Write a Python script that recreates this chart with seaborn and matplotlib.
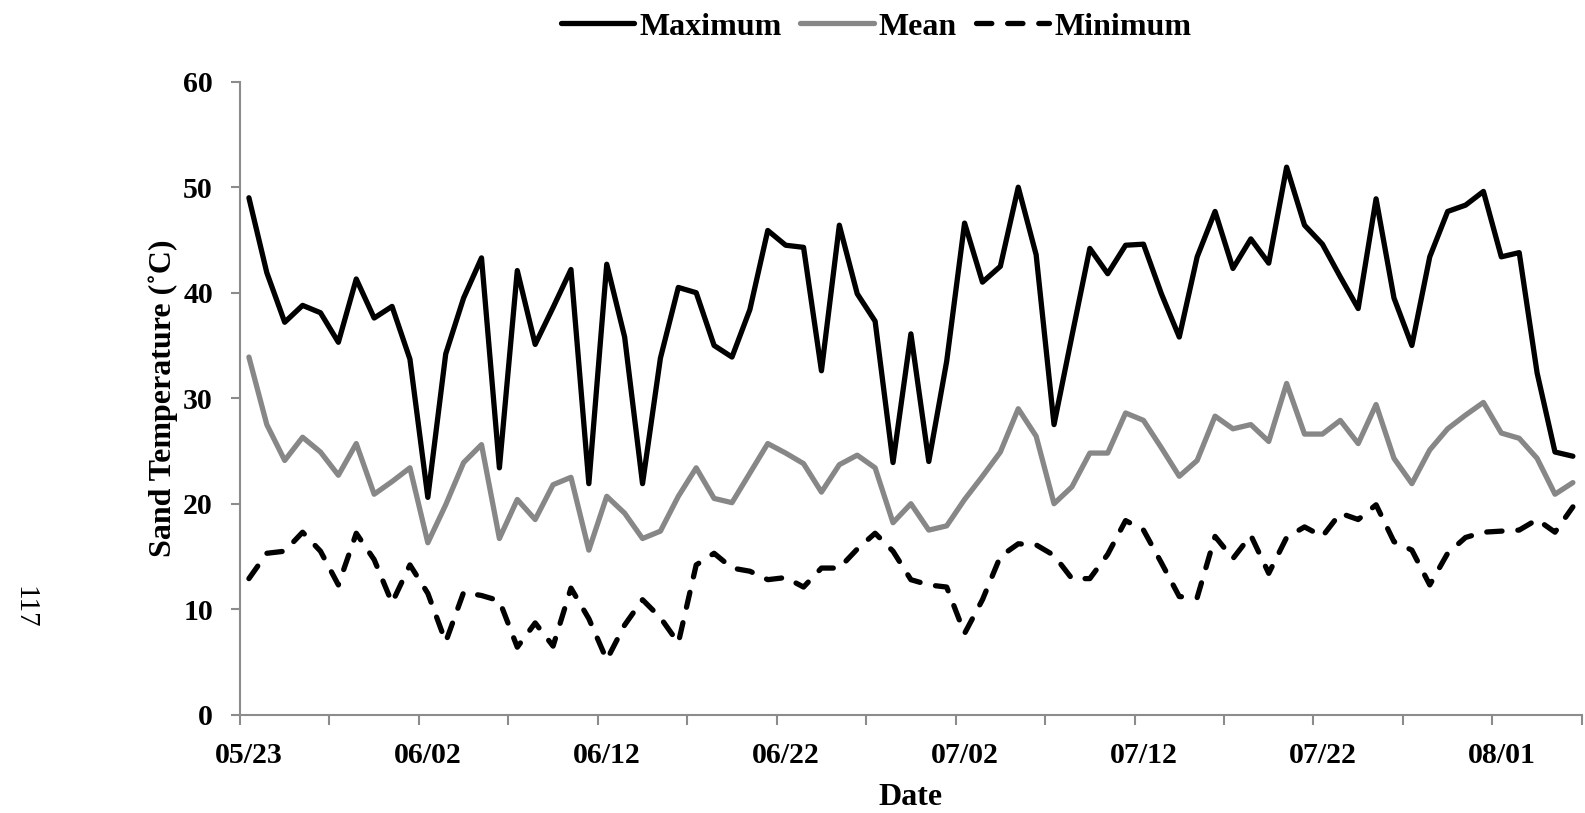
import matplotlib
matplotlib.use("Agg")
import matplotlib.pyplot as plt
import pandas as pd
import seaborn as sns

START = "2013-05-23"
SERIES_NAMES = ["Maximum", "Mean", "Minimum"]

MAXIMUM = [
    49.0, 41.9, 37.2, 38.8, 38.1, 35.3, 41.3, 37.6, 38.7, 33.7,
    20.6, 34.2, 39.5, 43.3, 23.4, 42.1, 35.1, 38.6, 42.2, 21.9,
    42.7, 35.8, 21.9, 33.8, 40.5, 40.0, 35.0, 33.9, 38.4, 45.9,
    44.5, 44.3, 32.6, 46.4, 39.9, 37.3, 23.9, 36.1, 24.0, 33.5,
    46.6, 41.0, 42.5, 50.0, 43.6, 27.5, 35.9, 44.2, 41.8, 44.5,
    44.6, 39.9, 35.8, 43.4, 47.7, 42.3, 45.1, 42.8, 51.9, 46.4,
    44.6, 41.5, 38.5, 48.9, 39.5, 35.0, 43.4, 47.7, 48.3, 49.6,
    43.4, 43.8, 32.4, 24.9, 24.5,
]
MEAN = [
    33.9, 27.5, 24.1, 26.3, 24.9, 22.7, 25.7, 20.9, 22.1, 23.4,
    16.3, 19.9, 23.9, 25.6, 16.7, 20.4, 18.5, 21.8, 22.5, 15.6,
    20.7, 19.1, 16.7, 17.4, 20.7, 23.4, 20.5, 20.1, 22.9, 25.7,
    24.8, 23.8, 21.1, 23.7, 24.6, 23.4, 18.2, 20.0, 17.5, 17.9,
    20.4, 22.6, 24.9, 29.0, 26.4, 20.0, 21.6, 24.8, 24.8, 28.6,
    27.9, 25.3, 22.6, 24.1, 28.3, 27.1, 27.5, 25.9, 31.4, 26.6,
    26.6, 27.9, 25.7, 29.4, 24.3, 21.9, 25.1, 27.1, 28.4, 29.6,
    26.7, 26.2, 24.3, 20.9, 22.0,
]
MINIMUM = [
    12.9, 15.3, 15.5, 17.3, 15.5, 12.3, 17.2, 14.7, 10.6, 14.2,
    11.5, 6.9, 11.6, 11.3, 10.8, 6.4, 8.7, 6.5, 12.0, 9.1,
    5.2, 8.5, 10.9, 9.2, 6.8, 14.2, 15.3, 13.9, 13.6, 12.8,
    13.0, 12.1, 13.9, 13.9, 15.7, 17.2, 15.5, 12.8, 12.3, 12.1,
    7.7, 10.9, 15.0, 16.2, 16.1, 15.1, 12.9, 12.9, 15.2, 18.4,
    17.5, 14.4, 11.2, 11.1, 16.9, 14.8, 17.0, 13.4, 16.8, 17.8,
    16.9, 19.1, 18.5, 19.9, 16.4, 15.6, 12.3, 15.3, 16.8, 17.3,
    17.4, 17.5, 18.5, 17.3, 19.7,
]
Y_TICKS = [0, 10, 20, 30, 40, 50, 60]
PAGE_NUMBER = "117"


def main():
    n_days = len(MAXIMUM)
    day_start = pd.Timestamp(START)
    half_day = pd.Timedelta(hours=12)
    dates = pd.date_range(START, periods=n_days, freq="D") + half_day
    df = pd.DataFrame({
        "Date": list(dates) * 3,
        "Temp": MAXIMUM + MEAN + MINIMUM,
        "Series": [s for s in SERIES_NAMES for _ in range(n_days)],
    })

    sns.set_theme(style="white")
    plt.rcParams["font.family"] = ["Liberation Serif", "DejaVu Serif"]
    plt.rcParams["font.weight"] = "bold"
    plt.rcParams["text.color"] = "black"
    plt.rcParams["axes.labelcolor"] = "black"
    plt.rcParams["xtick.labelcolor"] = "black"
    plt.rcParams["ytick.labelcolor"] = "black"

    fig = plt.figure(figsize=(15.85, 8.13), dpi=100)
    ax = fig.add_axes([0.1514, 0.1209, 0.8466, 0.7786])

    styles = {
        "Maximum": dict(color="black"),
        "Mean": dict(color="#878787"),
        "Minimum": dict(color="black", dashes=(2.9, 3.0)),
    }
    for name in SERIES_NAMES:
        sub = df[df["Series"] == name]
        line_kw = dict(styles[name])
        dash = line_kw.pop("dashes", None)
        sns.lineplot(data=sub, x="Date", y="Temp", ax=ax, lw=3.8,
                     label=name, solid_capstyle="round", solid_joinstyle="round",
                     dash_capstyle="round", dash_joinstyle="round", **line_kw)
        if dash is not None:
            ax.lines[-1].set_dashes(dash)

    ax.set_ylim(0, 60)
    ax.set_yticks(Y_TICKS)
    ax.set_xlim(day_start, day_start + pd.Timedelta(days=n_days))
    # tick marks every 5 days, labels every 10 days centred on the day
    tick_dates = pd.date_range(START, periods=n_days // 5 + 1, freq="5D")
    ax.set_xticks(tick_dates)
    ax.set_xticklabels([])
    label_dates = pd.date_range(START, periods=n_days // 10 + 1, freq="10D")
    ax.set_xticks(label_dates + half_day, minor=True)
    ax.set_xticklabels([d.strftime("%m/%d") for d in label_dates], minor=True)

    for side in ["top", "right"]:
        ax.spines[side].set_visible(False)
    for side in ["left", "bottom"]:
        ax.spines[side].set_color("#8c8c8c")
        ax.spines[side].set_linewidth(1.5)
    ax.tick_params(axis="both", which="major", direction="out", color="#8c8c8c",
                   width=1.5, left=True, bottom=True)
    ax.tick_params(axis="y", length=6.5, pad=13, labelsize=21.5)
    ax.tick_params(axis="x", which="major", length=7.5)
    ax.tick_params(axis="x", which="minor", length=0, pad=20, labelsize=21.5,
                   bottom=True)

    ax.set_xlabel("Date", fontsize=23, fontweight="bold", labelpad=9.5)
    ax.set_ylabel("Sand Temperature (\u02daC)", fontsize=23, fontweight="bold",
                  labelpad=4)

    ax.legend(loc="center", bbox_to_anchor=(876 / 1585, 1 - 27 / 813),
              bbox_transform=fig.transFigure, ncol=3, frameon=False,
              fontsize=23, handlelength=2.3, handletextpad=0.15,
              columnspacing=0.6)

    fig.text(24 / 1585, 1 - 607 / 813, PAGE_NUMBER, rotation=270, fontsize=21,
             fontweight="normal", ha="center", va="center")

    fig.savefig("out.png", dpi=100)
    plt.close(fig)


if __name__ == "__main__":
    main()
